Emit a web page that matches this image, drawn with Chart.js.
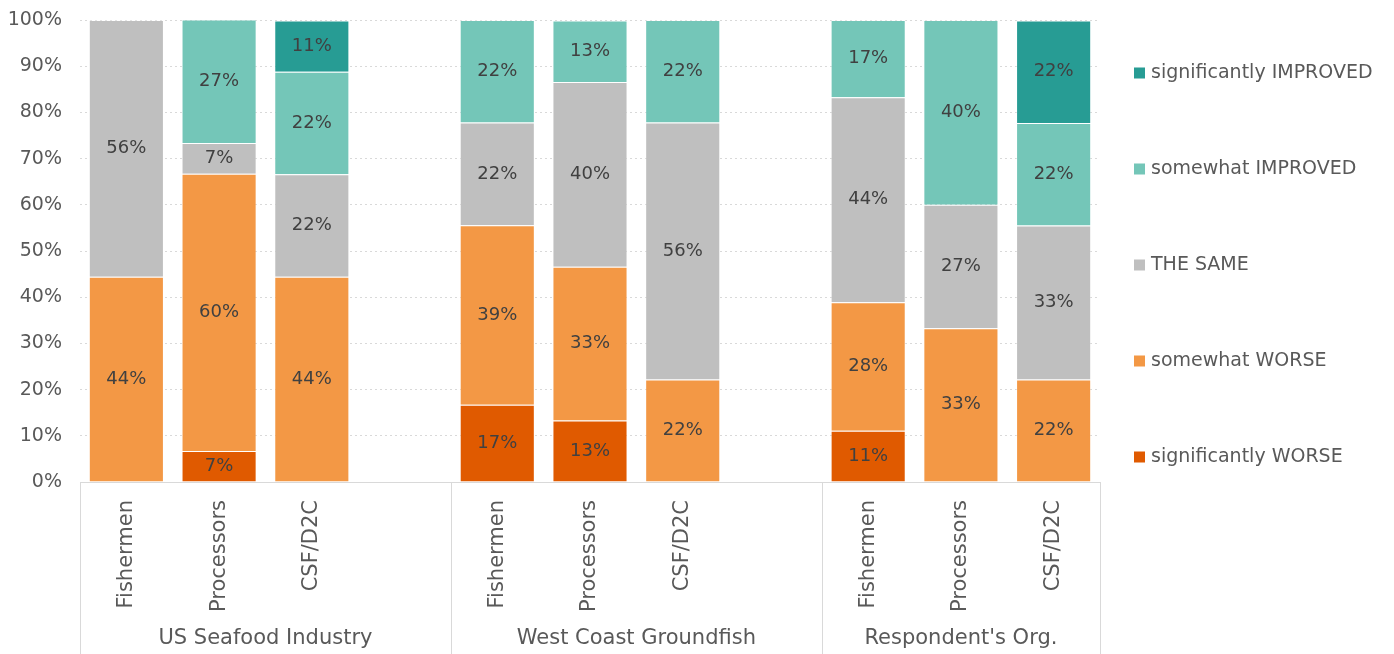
<!DOCTYPE html>
<html>
<head>
<meta charset="utf-8">
<script src="https://cdn.jsdelivr.net/npm/chart.js@4"></script>
<style>
  body { margin: 0; background: #fff; }
  canvas { display: block; }
</style>
</head>
<body>
<canvas id="chart" width="1394" height="654"></canvas>
<script>
// Données du graphique
const categories = ['Fishermen', 'Processors', 'CSF/D2C', '',
                    'Fishermen', 'Processors', 'CSF/D2C', '',
                    'Fishermen', 'Processors', 'CSF/D2C'];
const groups = ['US Seafood Industry', 'West Coast Groundfish', "Respondent's Org."];
const groupStarts = [0, 4, 8];

const sigWorse  = [0,    6.7,  0,    null, 16.7, 13.3, 0,    null, 11.1, 0,    0];
const someWorse = [44.4, 60,   44.4, null, 38.9, 33.3, 22.2, null, 27.8, 33.3, 22.2];
const same      = [55.6, 6.7,  22.2, null, 22.2, 40,   55.6, null, 44.4, 26.7, 33.3];
const someImp   = [0,    26.7, 22.2, null, 22.2, 13.3, 22.2, null, 16.7, 40,   22.2];
const sigImp    = [0,    0,    11.1, null, 0,    0,    0,    null, 0,    0,    22.2];

const seriesNames = ['significantly WORSE', 'somewhat WORSE', 'THE SAME', 'somewhat IMPROVED', 'significantly IMPROVED'];
const yTicks = [0, 10, 20, 30, 40, 50, 60, 70, 80, 90, 100];

const FONT = "'DejaVu Sans', 'Noto Sans', sans-serif";
const TEXT = '#595959';

// Étiquettes de valeur au centre des segments
const valueLabels = {
  id: 'valueLabels',
  afterDatasetsDraw(chart) {
    const ctx = chart.ctx;
    ctx.save();
    ctx.font = '18px ' + FONT;
    ctx.fillStyle = '#404040';
    ctx.textAlign = 'center';
    ctx.textBaseline = 'middle';
    chart.data.datasets.forEach((ds, i) => {
      const meta = chart.getDatasetMeta(i);
      meta.data.forEach((bar, j) => {
        const v = ds.data[j];
        if (!v) return;
        const mid = (bar.y + bar.base) / 2;
        ctx.fillText(Math.round(v) + '%', bar.x, mid);
      });
    });
    ctx.restore();
  }
};

// Séparateurs et libellés de groupes sous l'axe X, plus la légende
const groupAxis = {
  id: 'groupAxis',
  afterDraw(chart) {
    const ctx = chart.ctx;
    const x = chart.scales.x;
    const area = chart.chartArea;
    const slot = x.width / categories.length;
    const edges = groupStarts.map(s => x.getPixelForValue(s) - slot / 2);
    edges.push(area.right);

    ctx.save();
    ctx.strokeStyle = '#D9D9D9';
    ctx.lineWidth = 1;
    edges.forEach(e => {
      ctx.beginPath();
      ctx.moveTo(Math.round(e) + 0.5, area.bottom);
      ctx.lineTo(Math.round(e) + 0.5, chart.height);
      ctx.stroke();
    });

    ctx.font = '21px ' + FONT;
    ctx.fillStyle = TEXT;
    ctx.textAlign = 'center';
    ctx.textBaseline = 'middle';
    groups.forEach((g, i) => {
      ctx.fillText(g, (edges[i] + edges[i + 1]) / 2, 639);
    });

    // Légende (ordre inversé)
    ctx.textAlign = 'left';
    ctx.font = '19px ' + FONT;
    const items = chart.data.datasets.slice().reverse();
    items.forEach((ds, i) => {
      const cy = 73 + i * 96;
      ctx.fillStyle = ds.backgroundColor;
      ctx.fillRect(1134, cy - 5.5, 11, 11);
      ctx.fillStyle = TEXT;
      ctx.fillText(ds.label, 1151, cy);
    });
    ctx.restore();
  }
};

const colors = ['#E05A00', '#F39845', '#BFBFBF', '#74C6B8', '#279C94'];
const seriesData = [sigWorse, someWorse, same, someImp, sigImp];

new Chart(document.getElementById('chart'), {
  type: 'bar',
  data: {
    labels: categories,
    datasets: seriesData.map((d, i) => ({
      label: seriesNames[i],
      data: d,
      backgroundColor: colors[i],
      borderColor: 'rgba(255,255,255,0.3)',
      borderWidth: 1,
      barPercentage: 0.81,
      categoryPercentage: 1
    }))
  },
  options: {
    responsive: false,
    animation: false,
    devicePixelRatio: 1,
    layout: { padding: { top: 20, right: 294, left: 0, bottom: 0 } },
    plugins: {
      legend: { display: false },
      tooltip: { enabled: false }
    },
    scales: {
      x: {
        stacked: true,
        grid: { display: false },
        border: { color: '#D9D9D9', width: 1 },
        ticks: {
          autoSkip: false,
          maxRotation: 90,
          minRotation: 90,
          padding: 10,
          color: TEXT,
          font: { family: FONT, size: 21 }
        },
        afterFit(scale) {
          scale.height = 172;
          scale.paddingLeft = 0;
          scale.paddingRight = 0;
        }
      },
      y: {
        stacked: true,
        min: 0,
        max: 100,
        afterBuildTicks(scale) { scale.ticks = yTicks.map(v => ({ value: v })); },
        grid: { color: '#D9D9D9', drawTicks: false },
        border: { display: false, dash: [2, 3] },
        ticks: {
          padding: 18,
          color: TEXT,
          font: { family: FONT, size: 19 },
          callback: v => v + '%'
        },
        afterFit(scale) {
          scale.width = 80;
          scale.paddingTop = 0;
          scale.paddingBottom = 0;
        }
      }
    }
  },
  plugins: [valueLabels, groupAxis]
});
</script>
</body>
</html>
